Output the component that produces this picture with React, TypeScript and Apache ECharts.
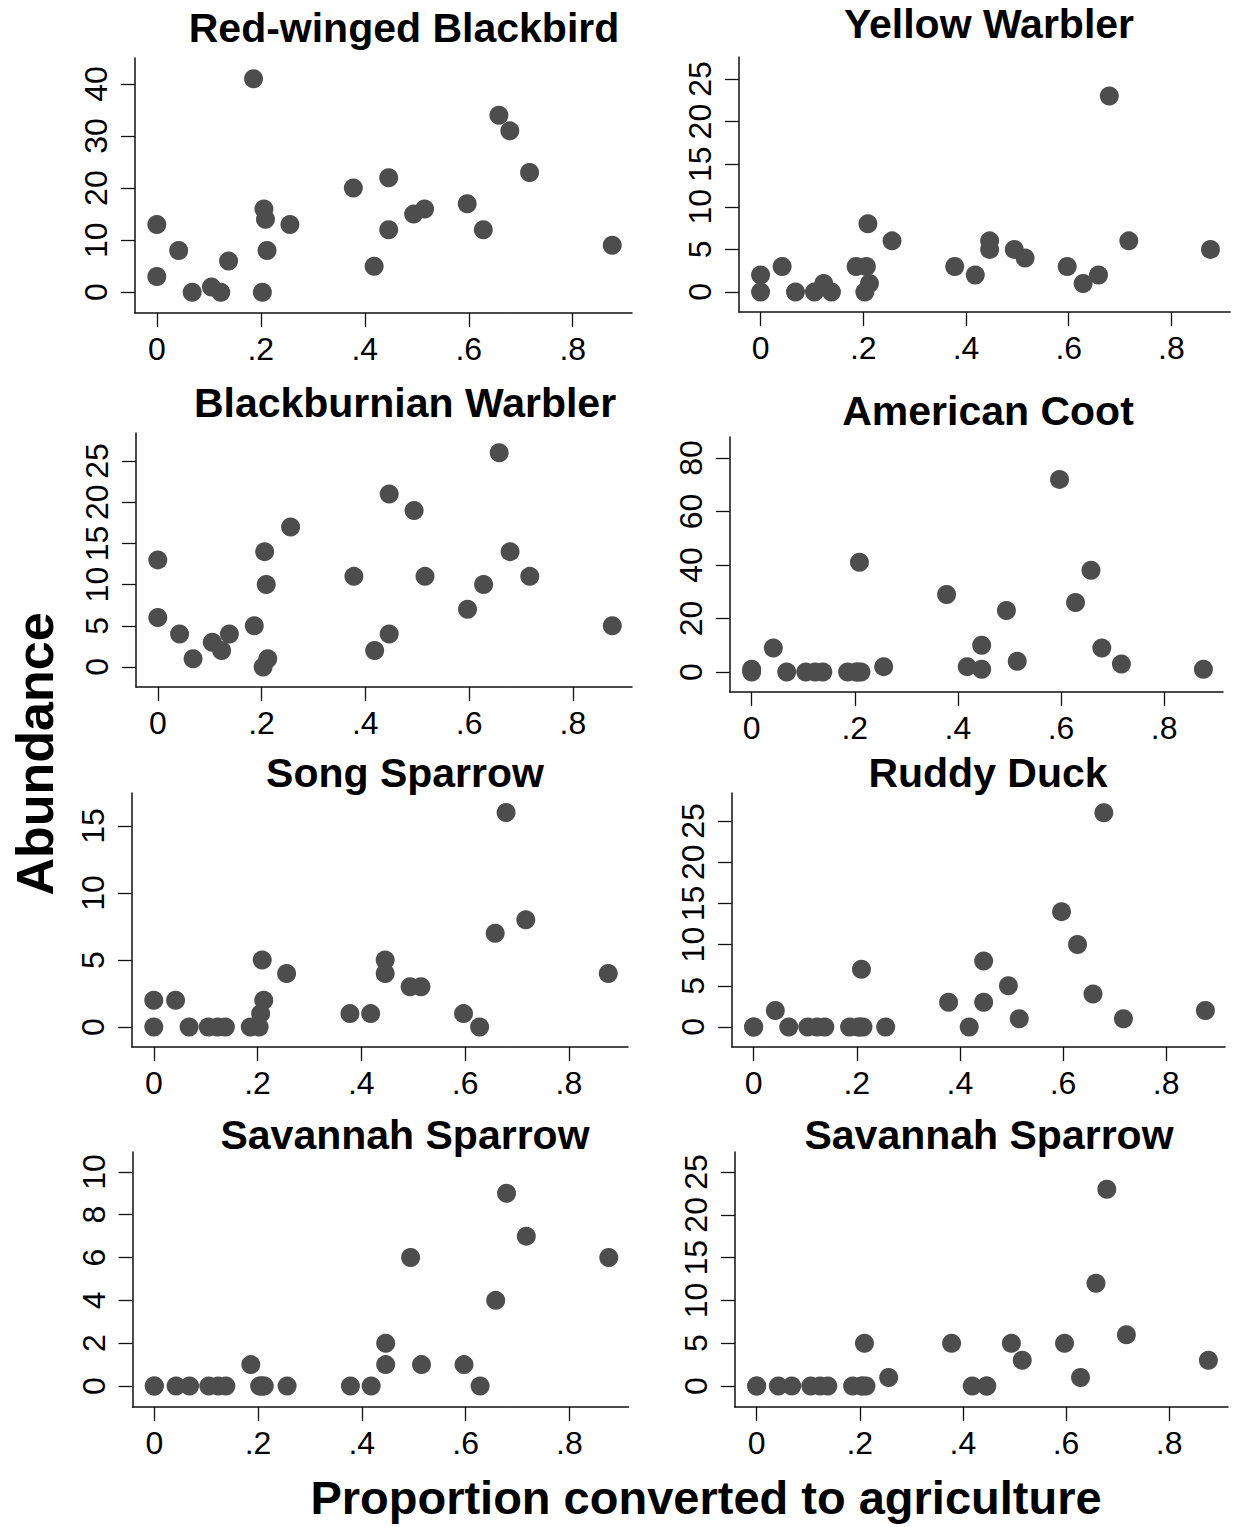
import React, { useEffect, useRef } from 'react';
import * as echarts from 'echarts';

// Proportion of each site converted to agriculture (shared by all species)
const siteX = [0, 0, 0.042, 0.068, 0.105, 0.123, 0.138, 0.186, 0.203, 0.206, 0.209, 0.212, 0.256, 0.378, 0.418, 0.446, 0.446, 0.494, 0.515, 0.597, 0.628, 0.658, 0.679, 0.717, 0.876];

// Abundance per site, in the same order as siteX
const redWingedBlackbird = [13, 3, 8, 0, 1, 0, 6, 41, 0, 16, 14, 8, 13, 20, 5, 22, 12, 15, 16, 17, 12, 34, 31, 23, 9];
const yellowWarbler = [2, 0, 3, 0, 0, 1, 0, 3, 0, 3, 8, 1, 6, 3, 2, 6, 5, 5, 4, 3, 1, 2, 23, 6, 5];
const blackburnianWarbler = [13, 6, 4, 1, 3, 2, 4, 5, 0, 14, 10, 1, 17, 11, 2, 21, 4, 19, 11, 7, 10, 26, 14, 11, 5];
const americanCoot = [1, 0, 9, 0, 0, 0, 0, 0, 0, 0, 41, 0, 2, 29, 2, 10, 1, 23, 4, 72, 26, 38, 9, 3, 1];
const songSparrow = [2, 0, 2, 0, 0, 0, 0, 0, 0, 1, 5, 2, 4, 1, 1, 5, 4, 3, 3, 1, 0, 7, 16, 8, 4];
const ruddyDuck = [0, 0, 2, 0, 0, 0, 0, 0, 0, 0, 7, 0, 0, 3, 0, 8, 3, 5, 1, 14, 10, 4, 26, 1, 2];
const savannahSparrowA = [0, 0, 0, 0, 0, 0, 0, 1, 0, 0, 0, 0, 0, 0, 0, 2, 1, 6, 1, 1, 0, 4, 9, 7, 6];
const savannahSparrowB = [0, 0, 0, 0, 0, 0, 0, 0, 0, 0, 5, 0, 1, 5, 0, 0, 0, 5, 3, 5, 1, 12, 23, 6, 3];

// Tick values and labels
const xTickValues = [0, 0.2, 0.4, 0.6, 0.8];
const xTickLabels = ['0', '.2', '.4', '.6', '.8'];
const yTicks40 = [0, 10, 20, 30, 40];
const yTicks25 = [0, 5, 10, 15, 20, 25];
const yTicks80 = [0, 20, 40, 60, 80];
const yTicks15 = [0, 5, 10, 15];
const yTicks10 = [0, 2, 4, 6, 8, 10];

const titles = ['Red-winged Blackbird', 'Yellow Warbler', 'Blackburnian Warbler', 'American Coot', 'Song Sparrow', 'Ruddy Duck', 'Savannah Sparrow', 'Savannah Sparrow'];
const xTitle = 'Proportion converted to agriculture';
const yTitle = 'Abundance';

const FONT = '"Liberation Sans", Arial, Helvetica, sans-serif';
const DOT = '#4d4d4d';

const panels = [
  { values: redWingedBlackbird, yTicks: yTicks40, yMin: -4.0, yMax: 45.0, left: 135, top: 58, width: 497, height: 255, tx: 404, ty: 28 },
  { values: yellowWarbler, yTicks: yTicks25, yMin: -2.35, yMax: 27.58, left: 739, top: 57, width: 491, height: 255, tx: 989, ty: 24 },
  { values: blackburnianWarbler, yTicks: yTicks25, yMin: -2.43, yMax: 28.4, left: 136, top: 433, width: 496, height: 254, tx: 405, ty: 403 },
  { values: americanCoot, yTicks: yTicks80, yMin: -7.48, yMax: 87.85, left: 730, top: 437, width: 493, height: 255, tx: 988, ty: 411 },
  { values: songSparrow, yTicks: yTicks15, yMin: -1.49, yMax: 17.46, left: 132, top: 793, width: 496, height: 254, tx: 405, ty: 773 },
  { values: ruddyDuck, yTicks: yTicks25, yMin: -2.43, yMax: 28.4, left: 732, top: 793, width: 493, height: 254, tx: 988, ty: 773 },
  { values: savannahSparrowA, yTicks: yTicks10, yMin: -0.98, yMax: 10.93, left: 132.5, top: 1152, width: 496, height: 255, tx: 405, ty: 1135 },
  { values: savannahSparrowB, yTicks: yTicks25, yMin: -2.45, yMax: 27.34, left: 735, top: 1152, width: 493, height: 255, tx: 989, ty: 1135 },
];

export default function App() {
  const ref = useRef<HTMLDivElement>(null);

  useEffect(() => {
    if (!ref.current) return;
    const chart = echarts.init(ref.current, undefined, { renderer: 'svg' });

    const axisLine = { show: true, onZero: false, lineStyle: { color: '#111', width: 1.5 } };
    const axisTickStyle = { color: '#111', width: 1.3 };

    const option: any = {
      animation: false,
      backgroundColor: '#ffffff',
      grid: panels.map((p) => ({ left: p.left, top: p.top, width: p.width, height: p.height, containLabel: false })),
      xAxis: panels.map((p, i) => ({
        type: 'value',
        gridIndex: i,
        min: -0.042,
        max: 0.914,
        axisLine,
        axisTick: { show: true, length: 14, lineStyle: axisTickStyle, customValues: xTickValues },
        axisLabel: {
          show: true,
          customValues: xTickValues,
          formatter: (v: number) => {
            const k = xTickValues.findIndex((t) => Math.abs(t - v) < 1e-6);
            return k >= 0 ? xTickLabels[k] : '';
          },
          fontSize: 32,
          fontFamily: FONT,
          color: '#000',
          margin: 20,
        },
        splitLine: { show: false },
      })),
      yAxis: panels.map((p, i) => ({
        type: 'value',
        gridIndex: i,
        min: p.yMin,
        max: p.yMax,
        axisLine,
        axisTick: { show: true, length: 14, lineStyle: axisTickStyle, customValues: p.yTicks },
        axisLabel: {
          show: true,
          customValues: p.yTicks,
          formatter: (v: number) => String(Math.round(v)),
          rotate: 90,
          fontSize: 32,
          fontFamily: FONT,
          color: '#000',
          margin: 23,
        },
        splitLine: { show: false },
      })),
      series: panels.map((p, i) => ({
        type: 'scatter',
        name: titles[i],
        xAxisIndex: i,
        yAxisIndex: i,
        symbol: 'circle',
        symbolSize: 19,
        itemStyle: { color: DOT, opacity: 1 },
        silent: true,
        clip: false,
        data: siteX.map((x, k) => [x, p.values[k]]),
      })),
      graphic: [
        ...panels.map((p, i) => ({
          type: 'text',
          x: p.tx,
          y: p.ty,
          silent: true,
          style: {
            text: titles[i],
            fill: '#000',
            font: `bold 41px ${FONT}`,
            textAlign: 'center',
            textVerticalAlign: 'middle',
          },
        })),
        {
          type: 'text',
          x: 35,
          y: 754,
          rotation: Math.PI / 2,
          silent: true,
          style: {
            text: yTitle,
            fill: '#000',
            font: `bold 52px ${FONT}`,
            textAlign: 'center',
            textVerticalAlign: 'middle',
          },
        },
        {
          type: 'text',
          x: 706,
          y: 1497,
          silent: true,
          style: {
            text: xTitle,
            fill: '#000',
            font: `bold 47px ${FONT}`,
            textAlign: 'center',
            textVerticalAlign: 'middle',
          },
        },
      ],
    };

    chart.setOption(option);
    return () => chart.dispose();
  }, []);

  return (
    <div
      ref={ref}
      style={{ position: 'absolute', left: 0, top: 0, width: 1233, height: 1527, background: '#fff' }}
    />
  );
}
